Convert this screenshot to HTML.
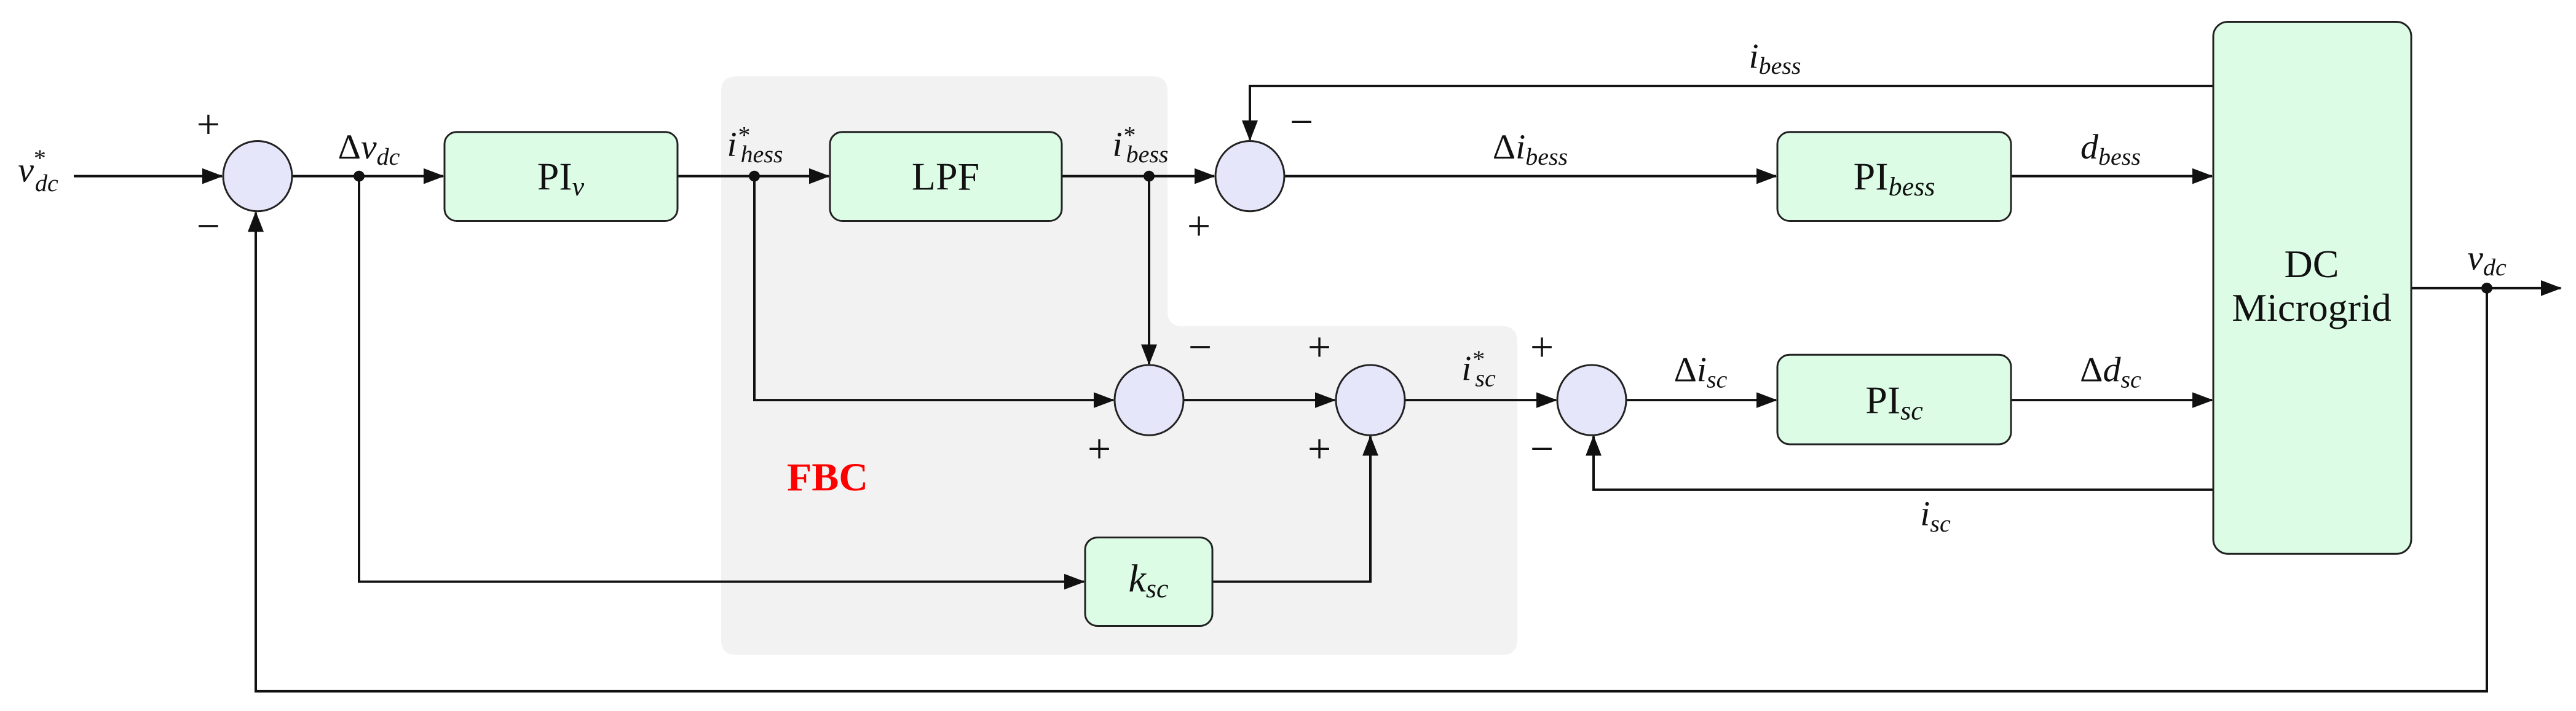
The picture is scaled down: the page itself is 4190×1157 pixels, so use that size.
<!DOCTYPE html>
<html><head><meta charset="utf-8"><style>
html,body{margin:0;padding:0;background:#fff;}
svg{display:block;}
text{font-family:"Liberation Serif",serif;fill:#111;}
.m{font-style:italic;}
</style></head><body>
<svg width="4190" height="1157" viewBox="0 0 4190 1157" xmlns="http://www.w3.org/2000/svg">
<defs>
<marker id="a" markerUnits="userSpaceOnUse" markerWidth="34" markerHeight="26" refX="32" refY="13" orient="auto">
<path d="M0,0 L34,13 L0,26 Z" fill="#111"/>
</marker>
</defs>
<g transform="scale(1,0.985)">
<path d="M1198,126 H1874 Q1899,126 1899,151 V514 Q1899,539 1924,539 H2443 Q2468,539 2468,564 V1057 Q2468,1082 2443,1082 H1198 Q1173,1082 1173,1057 V151 Q1173,126 1198,126 Z" fill="#f2f2f2"/>
<text x="1346" y="810" font-size="66" font-weight="bold" style="fill:#ff0000" text-anchor="middle">FBC</text>

<g stroke="#111" stroke-width="4" fill="none">
<line x1="120" y1="291" x2="361" y2="291" marker-end="url(#a)"/>
<line x1="475" y1="291" x2="721" y2="291" marker-end="url(#a)"/>
<line x1="1102" y1="291" x2="1348" y2="291" marker-end="url(#a)"/>
<line x1="1727" y1="291" x2="1975" y2="291" marker-end="url(#a)"/>
<line x1="2089" y1="291" x2="2889" y2="291" marker-end="url(#a)"/>
<line x1="3271" y1="291" x2="3598" y2="291" marker-end="url(#a)"/>
<polyline points="3600,142 2033,142 2033,231" marker-end="url(#a)"/>
<polyline points="1227,291 1227,661 1811,661" marker-end="url(#a)"/>
<line x1="1869" y1="291" x2="1869" y2="601" marker-end="url(#a)"/>
<line x1="1925" y1="661" x2="2171" y2="661" marker-end="url(#a)"/>
<line x1="2285" y1="661" x2="2531" y2="661" marker-end="url(#a)"/>
<line x1="2645" y1="661" x2="2889" y2="661" marker-end="url(#a)"/>
<line x1="3271" y1="661" x2="3598" y2="661" marker-end="url(#a)"/>
<polyline points="584,291 584,961 1763,961" marker-end="url(#a)"/>
<polyline points="1972,961 2229,961 2229,721" marker-end="url(#a)"/>
<polyline points="3600,809 2592,809 2592,721" marker-end="url(#a)"/>
<line x1="3922" y1="476" x2="4165" y2="476" marker-end="url(#a)"/>
<polyline points="4045,476 4045,1142 416,1142 416,351" marker-end="url(#a)"/>
</g>
<g fill="#111">
<circle cx="584" cy="291" r="9"/><circle cx="1227" cy="291" r="9"/><circle cx="1869" cy="291" r="9"/><circle cx="4045" cy="476" r="9"/>
</g>
<g fill="#e6e6fa" stroke="#222" stroke-width="3">
<ellipse cx="419" cy="291" rx="56" ry="58"/>
<ellipse cx="2033" cy="291" rx="56" ry="58"/>
<ellipse cx="1869" cy="661" rx="56" ry="58"/>
<ellipse cx="2229" cy="661" rx="56" ry="58"/>
<ellipse cx="2589" cy="661" rx="56" ry="58"/>
</g>
<g fill="#dcfce6" stroke="#222" stroke-width="3">
<rect x="723" y="218" width="379" height="147" rx="20"/>
<rect x="1350" y="218" width="377" height="147" rx="20"/>
<rect x="2891" y="218" width="380" height="147" rx="20"/>
<rect x="2891" y="586" width="380" height="148" rx="20"/>
<rect x="1765" y="888" width="207" height="146" rx="20"/>
<rect x="3600" y="36" width="322" height="879" rx="24"/>
</g>
<g font-size="64" text-anchor="middle">
<text x="912" y="313">PI<tspan class="m" font-size="44" dy="10">v</tspan></text>
<text x="1538" y="313">LPF</text>
<text x="3081" y="313">PI<tspan class="m" font-size="44" dy="10">bess</tspan></text>
<text x="3081" y="683">PI<tspan class="m" font-size="44" dy="10">sc</tspan></text>
<text x="1868" y="977" class="m">k<tspan font-size="44" dy="10">sc</tspan></text>
<text x="3760" y="458">DC</text>
<text x="3760" y="530">Microgrid</text>
</g>
<g font-size="58" text-anchor="middle">
<text x="62" y="300" class="m">v<tspan font-size="40" dx="-2" dy="-26">*</tspan><tspan font-size="40" dx="-16" dy="42">dc</tspan></text>
<text x="600" y="262">Δ<tspan class="m">v</tspan><tspan class="m" font-size="40" dy="10">dc</tspan></text>
<text x="1228" y="258" class="m">i<tspan font-size="40" dy="-22">*</tspan><tspan font-size="40" dx="-14" dy="32">hess</tspan></text>
<text x="1855" y="258" class="m">i<tspan font-size="40" dy="-22">*</tspan><tspan font-size="40" dx="-14" dy="32">bess</tspan></text>
<text x="2887" y="112" class="m">i<tspan font-size="40" dy="10">bess</tspan></text>
<text x="2489" y="262">Δ<tspan class="m">i</tspan><tspan class="m" font-size="40" dy="10">bess</tspan></text>
<text x="3433" y="262" class="m">d<tspan font-size="40" dy="10">bess</tspan></text>
<text x="4045" y="445" class="m">v<tspan font-size="40" dy="10">dc</tspan></text>
<text x="2405" y="628" class="m">i<tspan font-size="40" dy="-22">*</tspan><tspan font-size="40" dx="-14" dy="32">sc</tspan></text>
<text x="2766" y="630">Δ<tspan class="m">i</tspan><tspan class="m" font-size="40" dy="10">sc</tspan></text>
<text x="3433" y="630">Δ<tspan class="m">d</tspan><tspan class="m" font-size="40" dy="10">sc</tspan></text>
<text x="3148" y="868" class="m">i<tspan font-size="40" dy="10">sc</tspan></text>
</g>
<g font-size="68" text-anchor="middle">
<text x="339" y="228">+</text><text x="339" y="396">−</text>
<text x="2117" y="224">−</text><text x="1950" y="396">+</text>
<text x="1952" y="596">−</text><text x="1788" y="764">+</text>
<text x="2146" y="596">+</text><text x="2146" y="764">+</text>
<text x="2508" y="596">+</text><text x="2508" y="764">−</text>
</g>
</g>
</svg>
</body></html>
